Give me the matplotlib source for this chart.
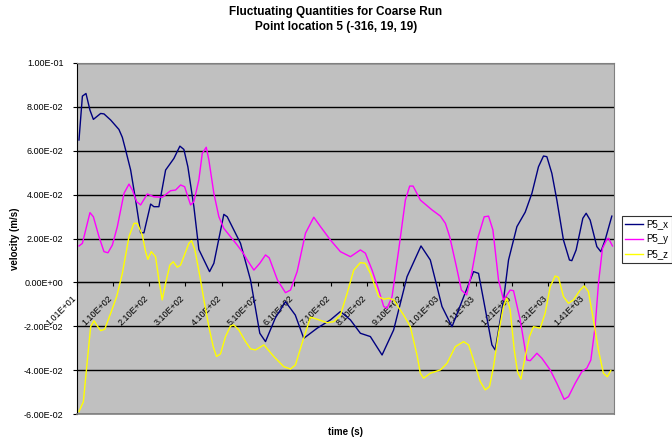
import matplotlib
matplotlib.use("Agg")
import matplotlib.pyplot as plt
from matplotlib.ticker import FuncFormatter
from matplotlib.transforms import ScaledTranslation

plt.rcParams['font.family'] = ['Liberation Sans', 'DejaVu Sans']

title_lines = ["Fluctuating Quantities for Coarse Run", "Point location 5 (-316, 19, 19)"]
x_label = "time (s)"
y_label = "velocity (m/s)"
series_names = ["P5_x", "P5_y", "P5_z"]
series_colors = ["#000080", "#FF00FF", "#FFFF00"]

x_ticks = [10.1, 110.1, 210.1, 310.1, 410.1, 510.1, 610.1, 710.1, 810.1,
           910.1, 1010.1, 1110.1, 1210.1, 1310.1, 1410.1]
y_ticks = [-0.06, -0.04, -0.02, 0.0, 0.02, 0.04, 0.06, 0.08, 0.10]

t_x = [16.4, 25.8, 35.7, 46.7, 56.1, 76.2, 85.3, 103.8, 126.6, 136.0, 145.1, 158.9,
       172.6, 186.4, 195.5, 214.0, 223.0, 236.8, 255.3, 278.2, 294.7, 305.7, 316.7,
       333.3, 347.0, 376.5, 388.4, 415.9, 425.3, 461.9, 489.5, 515.1, 530.8, 558.0,
       585.9, 613.0, 636.3, 673.2, 709.9, 737.4, 765.0, 792.5, 820.0, 852.3, 884.2,
       921.2, 959.7, 985.4, 1017.6, 1045.2, 1104.6, 1118.4, 1132.2, 1155.3, 1164.4,
       1187.3, 1201.1, 1224.2, 1247.1, 1265.6, 1283.7, 1297.5, 1306.8, 1320.6,
       1334.4, 1352.6, 1369.1, 1375.7, 1387.6, 1406.0, 1415.2, 1426.2, 1444.7,
       1455.7, 1467.5, 1486.0]
v_x = [0.0649, 0.0849, 0.0861, 0.0785, 0.0743, 0.0770, 0.0768, 0.0740, 0.0697, 0.0661,
       0.0603, 0.0512, 0.0375, 0.0226, 0.0226, 0.0357, 0.0345, 0.0345, 0.0512, 0.0565,
       0.0621, 0.0606, 0.0527, 0.0345, 0.0150, 0.0049, 0.0087, 0.0310, 0.0299, 0.0178,
       0.0011, -0.0232, -0.0270, -0.0162, -0.0088, -0.0149, -0.0255, -0.0209, -0.0171,
       -0.0133, -0.0171, -0.0232, -0.0247, -0.0331, -0.0217, 0.0026, 0.0166, 0.0102,
       -0.0110, -0.0202, 0.0049, 0.0041, -0.0080, -0.0285, -0.0308, -0.0080, 0.0102,
       0.0254, 0.0320, 0.0406, 0.0527, 0.0576, 0.0573, 0.0497, 0.0375, 0.0193, 0.0102,
       0.0099, 0.0148, 0.0292, 0.0315, 0.0284, 0.0163, 0.0140, 0.0193, 0.0302]

t_y = [16.4, 25.8, 46.7, 56.1, 71.6, 85.3, 96.3, 108.4, 122.2, 140.6, 154.3, 163.6,
       175.4, 186.4, 204.9, 223.0, 246.2, 269.1, 282.9, 296.7, 307.7, 324.2, 333.3,
       347.0, 356.4, 367.4, 374.6, 388.4, 402.2, 415.9, 434.4, 452.9, 469.4, 480.4,
       498.8, 515.1, 530.8, 541.0, 563.7, 585.9, 599.7, 618.1, 641.1, 664.0, 682.5,
       709.9, 737.4, 765.0, 792.5, 806.3, 824.7, 843.1, 856.9, 866.1, 879.8, 898.2,
       916.6, 928.5, 937.9, 958.0, 990.3, 1013.2, 1027.0, 1038.9, 1057.3, 1071.1,
       1085.6, 1099.3, 1117.4, 1134.0, 1146.0, 1158.0, 1173.5, 1187.3, 1205.7,
       1214.9, 1233.3, 1251.7, 1260.9, 1279.4, 1293.1, 1316.0, 1334.4, 1354.5,
       1366.4, 1384.9, 1403.3, 1417.1, 1428.1, 1440.0, 1449.2, 1460.2, 1472.3,
       1476.8, 1487.8]
v_y = [0.0166, 0.0178, 0.0318, 0.0299, 0.0208, 0.0140, 0.0135, 0.0170, 0.0254, 0.0406,
       0.0448, 0.0421, 0.0368, 0.0353, 0.0403, 0.0390, 0.0388, 0.0418, 0.0421, 0.0444,
       0.0436, 0.0353, 0.0368, 0.0467, 0.0588, 0.0616, 0.0558, 0.0406, 0.0299, 0.0246,
       0.0208, 0.0170, 0.0133, 0.0102, 0.0056, 0.0087, 0.0125, 0.0112, 0.0011, -0.0047,
       -0.0035, 0.0049, 0.0224, 0.0297, 0.0254, 0.0193, 0.0140, 0.0117, 0.0148, 0.0133,
       0.0056, -0.0035, -0.0110, -0.0118, -0.0065, 0.0148, 0.0375, 0.0439, 0.0439,
       0.0375, 0.0330, 0.0302, 0.0269, 0.0208, 0.0072, -0.0035, -0.0057, 0.0041,
       0.0208, 0.0299, 0.0302, 0.0239, 0.0011, -0.0080, -0.0035, -0.0038, -0.0171,
       -0.0354, -0.0357, -0.0323, -0.0346, -0.0399, -0.0460, -0.0533, -0.0521, -0.0460,
       -0.0407, -0.0391, -0.0354, -0.0202, -0.0004, 0.0155, 0.0196, 0.0201, 0.0166]

t_z = [16.4, 28.5, 39.5, 48.6, 57.8, 67.0, 76.2, 87.2, 103.8, 120.3, 136.0, 154.2,
       168.0, 177.2, 191.0, 200.1, 206.4, 215.8, 227.6, 236.8, 245.9, 255.3, 267.1,
       276.4, 287.4, 296.6, 319.5, 327.0, 336.1, 350.0, 361.0, 374.6, 386.6, 395.7,
       406.7, 420.5, 434.4, 443.4, 457.2, 475.7, 489.5, 503.3, 526.5, 553.7, 581.2,
       599.7, 613.4, 631.8, 654.8, 673.2, 700.7, 719.1, 737.4, 755.9, 774.2, 792.5,
       806.3, 820.0, 843.1, 856.9, 870.6, 884.2, 911.8, 930.3, 948.7, 957.8, 967.0,
       985.4, 1013.2, 1031.4, 1054.3, 1077.2, 1090.9, 1104.6, 1123.1, 1136.8, 1148.7,
       1159.7, 1173.5, 1187.3, 1196.5, 1205.7, 1216.8, 1225.9, 1235.2, 1247.1, 1258.9,
       1269.9, 1288.4, 1302.1, 1316.0, 1329.7, 1338.8, 1352.6, 1366.4, 1380.2, 1398.6,
       1409.6, 1421.5, 1435.3, 1449.0, 1462.8, 1473.8, 1483.2]
v_z = [-0.0589, -0.0544, -0.0354, -0.0202, -0.0175, -0.0199, -0.0220, -0.0214, -0.0141,
       -0.0065, 0.0041, 0.0208, 0.0269, 0.0269, 0.0216, 0.0140, 0.0105, 0.0140, 0.0117,
       0.0011, -0.0080, -0.0004, 0.0079, 0.0094, 0.0069, 0.0079, 0.0178, 0.0190, 0.0148,
       0.0026, -0.0080, -0.0202, -0.0293, -0.0338, -0.0326, -0.0247, -0.0199, -0.0194,
       -0.0217, -0.0270, -0.0303, -0.0308, -0.0285, -0.0338, -0.0384, -0.0395, -0.0376,
       -0.0277, -0.0159, -0.0168, -0.0184, -0.0179, -0.0149, -0.0050, 0.0056, 0.0090,
       0.0087, 0.0041, -0.0065, -0.0077, -0.0072, -0.0080, -0.0149, -0.0202, -0.0331,
       -0.0414, -0.0437, -0.0414, -0.0399, -0.0369, -0.0293, -0.0270, -0.0285, -0.0354,
       -0.0452, -0.0490, -0.0475, -0.0384, -0.0232, -0.0110, -0.0072, -0.0126, -0.0308,
       -0.0407, -0.0441, -0.0338, -0.0247, -0.0202, -0.0209, -0.0141, -0.0020, 0.0029,
       0.0023, -0.0065, -0.0095, -0.0080, -0.0035, -0.0016, -0.0042, -0.0171, -0.0308,
       -0.0414, -0.0430, -0.0402]

W, H = 672, 441
fig = plt.figure(figsize=(W / 100, H / 100), dpi=100)
fig.patch.set_facecolor('white')
L, R, T, B = 76.7, 614, 63, 414
ax = fig.add_axes([L / W, 1 - B / H, (R - L) / W, (B - T) / H])
ax.set_facecolor('#C0C0C0')

for yt in y_ticks:
    ax.axhline(yt, color='black', lw=1.0, zorder=1)

lines = []
for tt, vv, name, c in zip([t_x, t_y, t_z], [v_x, v_y, v_z], series_names, series_colors):
    ln, = ax.plot(tt, vv, color=c, lw=1.0, label=name, zorder=3)
    lines.append(ln)

ax.set_xlim(10.1, 1492)
ax.set_ylim(-0.06, 0.10)
ax.set_yticks(y_ticks)
ax.set_xticks(x_ticks)
ax.yaxis.set_major_formatter(FuncFormatter(lambda v, p: f"{v:.2E}"))
ax.xaxis.set_major_formatter(FuncFormatter(lambda v, p: f"{v:.2E}"))

ax.spines['bottom'].set_position(('data', 0))
ax.spines['bottom'].set_color('black')
ax.spines['left'].set_color('black')
ax.spines['top'].set_color('#808080')
ax.spines['right'].set_color('#808080')
ax.plot([0, 1], [0, 0], transform=ax.transAxes, color='#808080', lw=1.2, clip_on=False, zorder=5)

ax.tick_params(axis='y', direction='out', length=3, width=0.8, labelsize=6.5, pad=6.5)
ax.tick_params(axis='x', direction='out', length=3, width=0.8, labelsize=6.5, pad=3)
shift = ScaledTranslation(-0.05, -0.03, fig.dpi_scale_trans)
for lab in ax.get_xticklabels():
    lab.set_rotation(45)
    lab.set_ha('right')
    lab.set_va('top')
    lab.set_rotation_mode('anchor')
    lab.set_transform(lab.get_transform() + shift)

fig.text(0.5, 1 - 12 / H, title_lines[0], ha='center', va='center', fontsize=8.5, fontweight='bold')
fig.text(0.5, 1 - 27 / H, title_lines[1], ha='center', va='center', fontsize=8.5, fontweight='bold')
fig.text(346 / W, 1 - 432 / H, x_label, ha='center', va='center', fontsize=7, fontweight='bold')
fig.text(15 / W, 1 - 239 / H, y_label, ha='center', va='center', rotation=90, fontsize=7, fontweight='bold')

leg = fig.legend(handles=lines, loc='upper left', bbox_to_anchor=(622 / W, 1 - 216 / H),
                 fontsize=7, frameon=True, fancybox=False, edgecolor='black',
                 borderpad=0.35, handlelength=1.85, handletextpad=0.3, labelspacing=0.5,
                 borderaxespad=0)
leg.get_frame().set_linewidth(0.8)

fig.savefig('out.png', dpi=100)
